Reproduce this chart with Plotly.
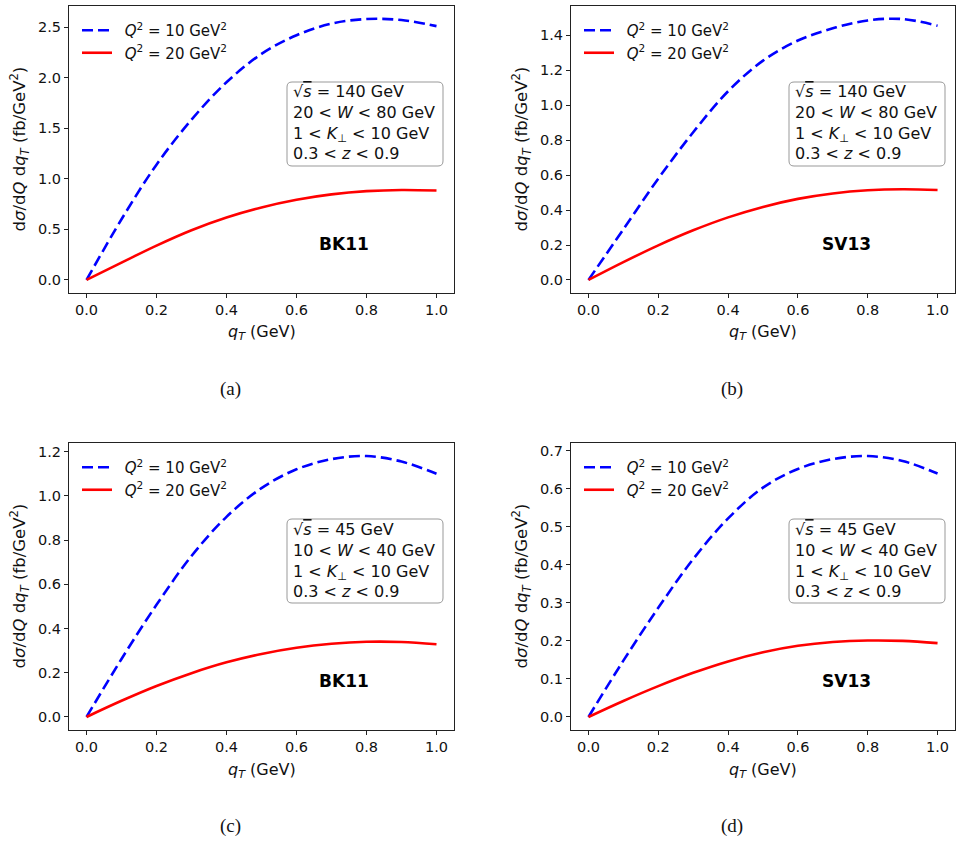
import plotly.graph_objects as go

# ---------------- data ----------------
q_T = [0.0, 0.1, 0.2, 0.3, 0.4, 0.5, 0.6, 0.7, 0.8, 0.9, 1.0]

bk11_140_q10 = [0.0, 0.60, 1.14, 1.585, 1.955, 2.235, 2.42, 2.535, 2.58, 2.57, 2.51]
bk11_140_q20 = [0.0, 0.172, 0.340, 0.492, 0.618, 0.717, 0.793, 0.846, 0.878, 0.890, 0.884]
sv13_140_q10 = [0.0, 0.29, 0.58, 0.845, 1.08, 1.255, 1.37, 1.44, 1.485, 1.493, 1.455]
sv13_140_q20 = [0.0, 0.102, 0.198, 0.284, 0.358, 0.418, 0.464, 0.495, 0.513, 0.519, 0.515]
bk11_45_q10 = [0.0, 0.262, 0.507, 0.728, 0.905, 1.035, 1.12, 1.166, 1.18, 1.155, 1.10]
bk11_45_q20 = [0.0, 0.073, 0.140, 0.198, 0.247, 0.285, 0.313, 0.331, 0.340, 0.339, 0.329]
sv13_45_q10 = [0.0, 0.148, 0.287, 0.415, 0.522, 0.603, 0.652, 0.678, 0.686, 0.673, 0.640]
sv13_45_q20 = [0.0, 0.042, 0.081, 0.116, 0.146, 0.170, 0.187, 0.197, 0.201, 0.200, 0.194]

series_names = ["\u00a0\u2009<i>Q</i><sup>2</sup> = 10 GeV<sup>2</sup>",
                "\u00a0\u2009<i>Q</i><sup>2</sup> = 20 GeV<sup>2</sup>"]
models = ["BK11", "SV13", "BK11", "SV13"]
captions = ["(a)", "(b)", "(c)", "(d)"]
y_dticks = [0.5, 0.2, 0.2, 0.1]
box_lines_140 = ["√<span style='text-decoration:overline'><i>s</i></span> = 140 GeV",
                 "20 < <i>W</i> < 80 GeV",
                 "1 < <i>K</i><sub>⊥</sub> < 10 GeV",
                 "0.3 < <i>z</i> < 0.9"]
box_lines_45 = ["√<span style='text-decoration:overline'><i>s</i></span> = 45 GeV",
                "10 < <i>W</i> < 40 GeV",
                "1 < <i>K</i><sub>⊥</sub> < 10 GeV",
                "0.3 < <i>z</i> < 0.9"]

panels = [
    (bk11_140_q10, bk11_140_q20, box_lines_140),
    (sv13_140_q10, sv13_140_q20, box_lines_140),
    (bk11_45_q10, bk11_45_q20, box_lines_45),
    (sv13_45_q10, sv13_45_q20, box_lines_45),
]

# ---------------- layout geometry (pixels) ----------------
W, H = 962, 843
FONT = "DejaVu Sans"
# plot-area pixel boxes: (left, right, top, bottom)
boxes = [(69, 454, 6, 293), (571, 955, 6, 293),
         (69, 454, 443, 730), (571, 955, 443, 730)]


def px(x):
    return x / W


def py(y):
    return 1 - y / H


fig = go.Figure()
annotations = []
shapes = []

for i, ((blue, red, lines), (l, r, t, b)) in enumerate(zip(panels, boxes)):
    n = i + 1
    xa = "x" if n == 1 else f"x{n}"
    ya = "y" if n == 1 else f"y{n}"
    lg = "legend" if n == 1 else f"legend{n}"
    fig.add_trace(go.Scatter(x=q_T, y=blue, mode="lines", name=series_names[0],
                             line=dict(color="#0000ff", width=2.6, dash="11px,5px", shape="spline"),
                             xaxis=xa, yaxis=ya, legend=lg))
    fig.add_trace(go.Scatter(x=q_T, y=red, mode="lines", name=series_names[1],
                             line=dict(color="#ff0000", width=2.6, shape="spline"),
                             xaxis=xa, yaxis=ya, legend=lg))

    allv = blue + red
    lo, hi = min(allv), max(allv)
    span = hi - lo
    axis_common = dict(showline=True, mirror=True, linecolor="#222", linewidth=1,
                       ticks="outside", ticklen=4, tickcolor="#222", tickwidth=1,
                       showgrid=False, zeroline=False,
                       tickfont=dict(family=FONT, size=14.5, color="#111"),
                       tickformat=".1f")
    xkey = "xaxis" if n == 1 else f"xaxis{n}"
    ykey = "yaxis" if n == 1 else f"yaxis{n}"
    fig.update_layout(**{
        xkey: dict(domain=[px(l), px(r)], anchor=ya, range=[-0.05, 1.05],
                   tick0=0, dtick=0.2, **axis_common),
        ykey: dict(domain=[py(b), py(t)], anchor=xa,
                   range=[lo - 0.05 * span, hi + 0.05 * span],
                   tick0=0, dtick=y_dticks[i], **axis_common),
        lg: dict(x=px(l + 8), y=py(t + 8), xanchor="left", yanchor="top",
                 bgcolor="rgba(0,0,0,0)", borderwidth=0,
                 font=dict(family=FONT, size=15, color="#111"),
                 tracegroupgap=0, itemwidth=30),
    })

    cx = (l + r) / 2
    cy = (t + b) / 2
    # axis titles
    annotations.append(dict(x=px(cx), y=py(b + 40), xref="paper", yref="paper",
                            text="<i>q</i><sub><i>T</i></sub> (GeV)", showarrow=False,
                            xanchor="center", yanchor="middle",
                            font=dict(family=FONT, size=16, color="#111")))
    annotations.append(dict(x=px(l - 50), y=py(cy), xref="paper", yref="paper",
                            text="d<i>σ</i>/d<i>Q</i> d<i>q</i><sub><i>T</i></sub> (fb/GeV<sup>2</sup>)",
                            showarrow=False, textangle=-90,
                            xanchor="center", yanchor="middle",
                            font=dict(family=FONT, size=16.5, color="#111")))
    # caption
    annotations.append(dict(x=px(l + 161), y=py(b + 96), xref="paper", yref="paper",
                            text=captions[i], showarrow=False,
                            xanchor="center", yanchor="middle",
                            font=dict(family="Liberation Serif", size=19, color="#111")))
    # model label
    annotations.append(dict(x=px(l + 275), y=py(t + 238), xref="paper", yref="paper",
                            text="<b>" + models[i] + "</b>", showarrow=False,
                            xanchor="center", yanchor="middle",
                            font=dict(family=FONT, size=17, color="#000")))
    # text box
    bx0, bx1 = l + 218, l + 374
    by0 = t + 76
    by1 = by0 + 84
    rad = 5
    X0, X1 = px(bx0), px(bx1)
    Y0, Y1 = py(by0), py(by1)
    rx, ry = rad / W, rad / H
    path = (f"M{X0 + rx},{Y0} L{X1 - rx},{Y0} Q{X1},{Y0} {X1},{Y0 - ry} "
            f"L{X1},{Y1 + ry} Q{X1},{Y1} {X1 - rx},{Y1} "
            f"L{X0 + rx},{Y1} Q{X0},{Y1} {X0},{Y1 + ry} "
            f"L{X0},{Y0 - ry} Q{X0},{Y0} {X0 + rx},{Y0} Z")
    shapes.append(dict(type="path", path=path, xref="paper", yref="paper",
                       line=dict(color="#999", width=1), fillcolor="rgba(255,255,255,0.8)",
                       layer="above"))
    annotations.append(dict(x=px(bx0 + 4), y=py((by0 + by1) / 2 - 1), xref="paper", yref="paper",
                            text="<br>".join(lines), showarrow=False, align="left",
                            xanchor="left", yanchor="middle",
                            font=dict(family=FONT, size=16, color="#111")))

fig.update_layout(width=W, height=H, autosize=False,
                  margin=dict(l=0, r=0, t=0, b=0),
                  paper_bgcolor="white", plot_bgcolor="white",
                  showlegend=True, annotations=annotations, shapes=shapes)

fig.write_html("out.html")
